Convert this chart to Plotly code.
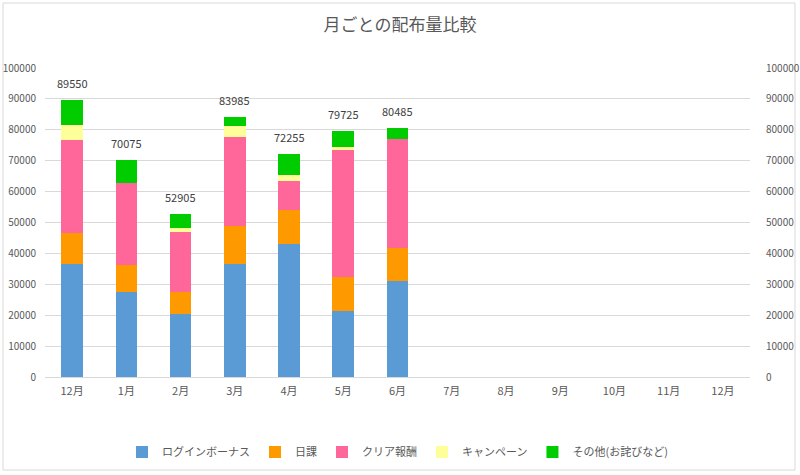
import plotly.graph_objects as go

months = ["12月", "1月", "2月", "3月", "4月", "5月", "6月", "7月", "8月", "9月", "10月", "11月", "12月"]
login_bonus = [36540, 27350, 20540, 36430, 43140, 21510, 31030]
daily = [9950, 8870, 6920, 12540, 10910, 10920, 10700]
clear_reward = [30270, 26480, 19350, 28760, 9520, 41190, 35350]
campaign = [4640, 0, 1510, 3570, 1730, 760, 0]
other = [8150, 7375, 4585, 2685, 6955, 5345, 3405]
totals = [89550, 70075, 52905, 83985, 72255, 79725, 80485]

series = [
    ("ログインボーナス", login_bonus, "#5B9BD5"),
    ("日課", daily, "#FF9900"),
    ("クリア報酬", clear_reward, "#FF6699"),
    ("キャンペーン", campaign, "#FFFF99"),
    ("その他(お詫びなど)", other, "#00CC00"),
]

FONT = "Noto Sans CJK JP"
GRAY = "#595959"

x_pos = list(range(len(login_bonus)))
fig = go.Figure()
for name, vals, col in series:
    fig.add_trace(go.Bar(x=x_pos, y=vals, name=name, marker_color=col,
                         marker_line_width=0, width=0.4))

# invisible trace on the right axis so it renders
fig.add_trace(go.Scatter(x=x_pos, y=totals, mode="markers", marker=dict(opacity=0),
                         showlegend=False, yaxis="y2", hoverinfo="skip"))

for xi, t in zip(x_pos, totals):
    fig.add_annotation(x=xi, y=t, text=str(t), showarrow=False, yanchor="bottom", yshift=7,
                       font=dict(size=11, color="#404040", family=FONT))

W, H = 800, 475
L, R, T, B = 45, 50, 68, 98
pw, ph = W - L - R, H - T - B

def px_x(px):
    return (px - L) / pw

def px_y(py):
    return (H - B - py) / ph

fig.update_layout(
    width=W, height=H,
    margin=dict(l=L, r=R, t=T, b=B, autoexpand=False),
    barmode="stack",
    paper_bgcolor="white", plot_bgcolor="white",
    font=dict(family=FONT, color=GRAY, size=11),
    title=dict(text="月ごとの配布量比較", x=0.5, xanchor="center", y=1 - 25 / H, yanchor="middle",
               font=dict(size=17, color=GRAY, family=FONT)),
    xaxis=dict(range=[-0.5, len(months) - 0.5], tickvals=list(range(len(months))), ticktext=months,
               showgrid=False, zeroline=False, showline=False, ticks="", ticklabelstandoff=6,
               tickfont=dict(size=11, color=GRAY), automargin=False),
    yaxis=dict(range=[0, 100000], dtick=10000, showgrid=True, gridcolor="#D9D9D9", gridwidth=1,
               zeroline=True, zerolinecolor="#D9D9D9", zerolinewidth=1, showline=False, ticks="",
               ticklabelstandoff=8, tickfont=dict(size=10, color=GRAY), tickformat="d", automargin=False),
    yaxis2=dict(range=[0, 100000], dtick=10000, overlaying="y", side="right", showgrid=False,
                zeroline=False, showline=False, ticks="", ticklabelstandoff=15,
                tickfont=dict(size=10, color=GRAY), tickformat="d", automargin=False),
    legend=dict(orientation="h", x=0.5, xanchor="center", y=px_y(452), yanchor="middle",
                font=dict(size=11, color=GRAY, family=FONT), itemwidth=30, traceorder="normal"),
    bargap=0.6,
    shapes=[dict(type="rect", xref="paper", yref="paper", x0=px_x(3), x1=px_x(795),
                 y0=px_y(470), y1=px_y(3), line=dict(color="#D9D9D9", width=1), layer="below")],
)

fig.write_html("out.html")
